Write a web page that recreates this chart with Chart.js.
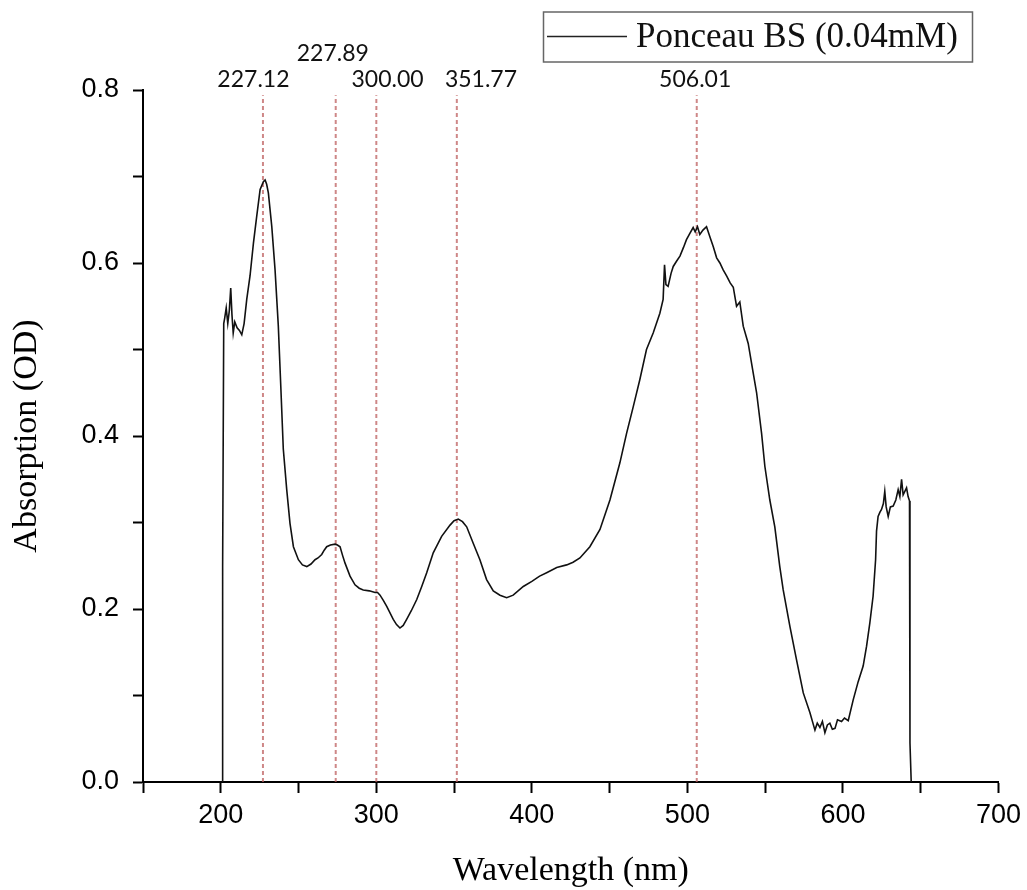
<!DOCTYPE html>
<html>
<head>
<meta charset="utf-8">
<script src="https://cdn.jsdelivr.net/npm/chart.js@4.4.1/dist/chart.umd.min.js"></script>
<style>
  body { margin: 0; background: #fff; }
  #wrap { width: 1027px; height: 890px; }
</style>
</head>
<body>
<div id="wrap"><canvas id="myChart" width="1027" height="890"></canvas></div>
<script>
// spectrum (nm, OD)
const wavelength = [
  201.0, 201.2, 201.9, 202.5, 203.5, 204.5, 205.5, 206.4, 207.2, 208.0,
  209.0, 210.5, 212.0, 213.5, 215.0, 216.7, 218.8, 221.0, 223.1, 225.3,
  227.4, 228.5, 229.5, 230.6, 232.8, 234.9, 237.0, 238.6, 240.2, 242.4,
  244.5, 246.7, 249.9, 252.5, 255.3, 258.0, 260.6, 262.5, 264.9, 266.5,
  268.1, 270.5, 273.5, 275.0, 276.7, 278.3, 279.9, 283.1, 286.3, 289.0,
  291.6, 295.5, 299.2, 300.8, 302.4, 304.5, 306.7, 310.9, 313.0, 315.2,
  317.3, 319.5, 322.5, 326.0, 329.2, 332.4, 336.6, 342.0, 347.4, 350.0,
  352.7, 355.4, 358.1, 362.3, 366.6, 370.9, 375.2, 379.5, 383.8, 388.0,
  394.5, 400.0, 405.0, 409.5, 416.0, 422.4, 426.5, 430.9, 437.3, 443.8,
  450.2, 456.6, 460.9, 465.2, 469.4, 473.7, 478.0, 482.3, 484.4, 485.3,
  486.2, 487.6, 489.5, 490.9, 493.0, 495.2, 497.5, 499.4, 501.5, 503.7,
  505.0, 506.5, 508.0, 510.0, 512.3, 514.5, 516.6, 518.8, 520.9, 523.0,
  525.2, 527.5, 529.5, 531.6, 533.7, 535.9, 539.1, 542.3, 544.5, 547.7,
  549.8, 553.0, 556.2, 559.4, 561.6, 565.9, 570.2, 574.5, 578.8, 582.0,
  583.5, 585.2, 586.8, 588.4, 590.0, 591.6, 593.2, 594.9, 596.5, 599.1,
  601.0, 603.4, 606.6, 609.8, 613.0, 615.2, 617.3, 619.4, 621.0, 621.6,
  622.6, 623.8, 624.8, 626.0, 626.9, 627.8, 629.1, 630.5, 632.3, 634.0,
  635.5, 636.6, 637.7, 638.7, 639.8, 640.9, 641.9, 642.8, 643.1, 643.9
];
const absorbance = [
  0.000, 0.250, 0.530, 0.536, 0.548, 0.530, 0.545, 0.571, 0.540, 0.519,
  0.532, 0.525, 0.522, 0.517, 0.530, 0.558, 0.585, 0.623, 0.654, 0.685,
  0.694, 0.696, 0.691, 0.681, 0.642, 0.592, 0.527, 0.457, 0.385, 0.338,
  0.299, 0.272, 0.257, 0.251, 0.249, 0.252, 0.257, 0.259, 0.263, 0.268,
  0.272, 0.274, 0.275, 0.274, 0.272, 0.262, 0.253, 0.238, 0.228, 0.224,
  0.222, 0.221, 0.219, 0.219, 0.216, 0.210, 0.203, 0.188, 0.182, 0.178,
  0.181, 0.188, 0.198, 0.211, 0.226, 0.242, 0.265, 0.284, 0.297, 0.302,
  0.304, 0.301, 0.295, 0.276, 0.257, 0.234, 0.221, 0.216, 0.213, 0.216,
  0.226, 0.232, 0.238, 0.242, 0.248, 0.251, 0.254, 0.259, 0.272, 0.292,
  0.326, 0.369, 0.403, 0.434, 0.465, 0.500, 0.519, 0.542, 0.558, 0.598,
  0.575, 0.573, 0.588, 0.596, 0.602, 0.608, 0.618, 0.627, 0.634, 0.641,
  0.636, 0.642, 0.633, 0.638, 0.642, 0.630, 0.619, 0.606, 0.600, 0.592,
  0.585, 0.577, 0.572, 0.550, 0.555, 0.527, 0.507, 0.473, 0.450, 0.403,
  0.365, 0.326, 0.295, 0.249, 0.222, 0.180, 0.141, 0.103, 0.080, 0.060,
  0.068, 0.063, 0.070, 0.057, 0.066, 0.068, 0.061, 0.062, 0.072, 0.070,
  0.074, 0.071, 0.095, 0.116, 0.134, 0.157, 0.184, 0.215, 0.257, 0.290,
  0.307, 0.312, 0.315, 0.322, 0.336, 0.318, 0.307, 0.318, 0.319, 0.326,
  0.338, 0.330, 0.350, 0.332, 0.336, 0.340, 0.330, 0.325, 0.045, 0.000
];

// marked peaks (dashed lines) and their printed labels
const peakWavelengths = [227.12, 273.9, 300.0, 351.77, 506.01];
const peakLabels = ['227.12', '227.89', '300.00', '351.77', '506.01'];
const peakTop = 0.794;

const seriesName = 'Ponceau BS (0.04mM)';

// where the peak labels sit (nm, OD of text baseline)
const labelAt = [[221, 0.804], [272, 0.833], [307.2, 0.804], [367.3, 0.804], [505, 0.804]];

const spectrum = wavelength.map((w, i) => ({ x: w, y: absorbance[i] }));

const peakSets = peakWavelengths.map(w => ({
  label: '',
  data: [{ x: w, y: 0 }, { x: w, y: peakTop }],
  borderColor: 'rgba(190, 95, 95, 0.75)',
  borderWidth: 2,
  borderDash: [4, 3],
  pointRadius: 0,
  fill: false
}));

const peakText = {
  id: 'peakText',
  afterDraw(chart) {
    const { ctx, scales } = chart;
    ctx.save();
    ctx.font = '23px Lato';
    ctx.fillStyle = '#111';
    ctx.textAlign = 'center';
    ctx.textBaseline = 'alphabetic';
    peakLabels.forEach((t, i) => {
      ctx.fillText(t, scales.x.getPixelForValue(labelAt[i][0]), scales.y.getPixelForValue(labelAt[i][1]));
    });
    ctx.restore();
  }
};

const boxLegend = {
  id: 'boxLegend',
  afterDraw(chart) {
    const ctx = chart.ctx;
    ctx.save();
    ctx.strokeStyle = '#666';
    ctx.lineWidth = 1.5;
    ctx.strokeRect(543.5, 12, 429, 50);
    ctx.strokeStyle = '#222';
    ctx.lineWidth = 1.3;
    ctx.beginPath();
    ctx.moveTo(547, 36.5);
    ctx.lineTo(627, 36.5);
    ctx.stroke();
    ctx.font = '35px "Liberation Serif"';
    ctx.fillStyle = '#111';
    ctx.textBaseline = 'alphabetic';
    ctx.fillText(seriesName, 636, 47);
    ctx.restore();
  }
};

const axisFont = { family: 'Liberation Sans', size: 27 };
const titleFont = { family: 'Liberation Serif', size: 34, lineHeight: 1.1 };

new Chart(document.getElementById('myChart').getContext('2d'), {
  type: 'line',
  data: {
    datasets: [
      {
        label: seriesName,
        data: spectrum,
        borderColor: '#111',
        borderWidth: 1.6,
        pointRadius: 0,
        tension: 0,
        fill: false
      },
      ...peakSets
    ]
  },
  options: {
    responsive: false,
    animation: false,
    layout: { padding: { top: 90, right: 27, left: 0, bottom: 0 } },
    plugins: {
      legend: { display: false },
      tooltip: { enabled: false }
    },
    scales: {
      x: {
        type: 'linear',
        min: 150,
        max: 700,
        afterFit: s => { s.height = 108; },
        ticks: {
          stepSize: 50,
          autoSkip: false,
          maxRotation: 0,
          padding: 6,
          color: '#000',
          font: axisFont,
          callback: v => (v % 100 === 0 ? v : '')
        },
        grid: { drawOnChartArea: false, tickLength: 11, tickColor: '#000', tickWidth: 2 },
        border: { color: '#000', width: 2 },
        title: {
          display: true,
          text: 'Wavelength (nm)',
          color: '#000',
          font: titleFont,
          padding: { top: 0, bottom: 0 }
        }
      },
      y: {
        min: 0,
        max: 0.8,
        afterFit: s => { s.width = 143; },
        ticks: {
          stepSize: 0.1,
          autoSkip: false,
          padding: 14,
          color: '#000',
          font: axisFont,
          callback: v => (Math.round(v * 10) % 2 === 0 ? v.toFixed(1) : '')
        },
        grid: { drawOnChartArea: false, tickLength: 10, tickColor: '#000', tickWidth: 2 },
        border: { color: '#000', width: 2 },
        title: {
          display: true,
          text: 'Absorption (OD)',
          color: '#000',
          font: titleFont,
          padding: { top: 8, bottom: 0 }
        }
      }
    }
  },
  plugins: [peakText, boxLegend]
});
</script>
</body>
</html>
